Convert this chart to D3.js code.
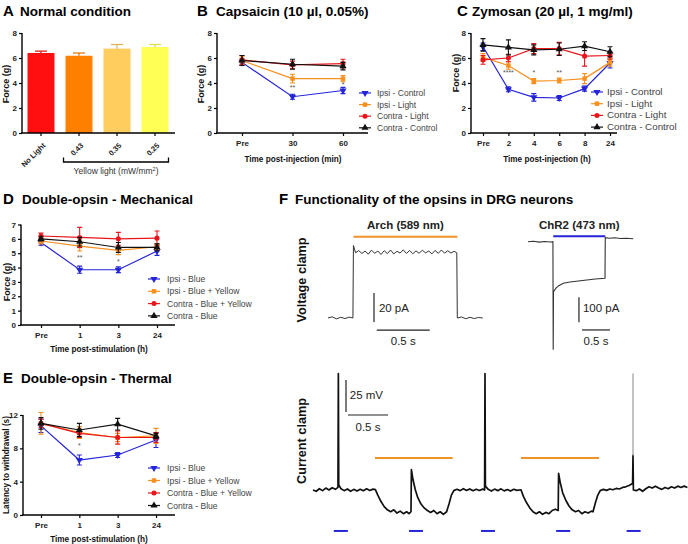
<!DOCTYPE html>
<html><head><meta charset="utf-8">
<script src="https://cdn.jsdelivr.net/npm/d3@7"></script>
<style>body{margin:0;background:#fff;} text{font-family:"Liberation Sans",Arial,sans-serif;}</style>
</head><body>
<svg id="c" width="688" height="544"></svg>
<script>
// ---------------- DATA ----------------
// Panel A
const barCategories = ["No Light", "0.43", "0.35", "0.25"];
const barValues = [6.4, 6.18, 6.75, 6.88];
const barErrors = [0.15, 0.22, 0.33, 0.2];
const barColors = ["#ff0f0f", "#ff8000", "#ffcc5e", "#ffff55"];

// Panel B (capsaicin)
const capsTimes = ["Pre", "30", "60"];
const capsIpsiControl = [5.65, 2.9, 3.4];
const capsIpsiControlErr = [0.25, 0.2, 0.25];
const capsIpsiLight = [5.8, 4.35, 4.35];
const capsIpsiLightErr = [0.3, 0.35, 0.25];
const capsContraLight = [5.85, 5.45, 5.55];
const capsContraLightErr = [0.35, 0.3, 0.35];
const capsContraControl = [5.8, 5.5, 5.35];
const capsContraControlErr = [0.4, 0.4, 0.3];
const capsStars = [["30", 3.7, "**"], ["60", 3.95, "*"]];

// Panel C (zymosan)
const zymTimes = ["Pre", "2", "4", "6", "8", "24"];
const zymIpsiControl = [6.9, 3.5, 2.85, 2.8, 3.55, 5.6];
const zymIpsiControlErr = [0.3, 0.2, 0.3, 0.2, 0.2, 0.4];
const zymIpsiLight = [6.05, 5.4, 4.15, 4.2, 4.35, 5.65];
const zymIpsiLightErr = [0.3, 0.3, 0.2, 0.2, 0.4, 0.3];
const zymContraLight = [5.85, 6.0, 6.75, 6.75, 6.15, 6.2];
const zymContraLightErr = [0.35, 0.3, 0.4, 0.5, 0.8, 0.3];
const zymContraControl = [7.05, 6.85, 6.65, 6.7, 6.95, 6.5];
const zymContraControlErr = [0.5, 0.6, 0.4, 0.5, 0.35, 0.4];
const zymStars = [["2", 4.9, "****"], ["4", 4.9, "*"], ["6", 4.9, "**"]];

// Panel D (double-opsin mechanical)
const stimTimes = ["Pre", "1", "3", "24"];
const mechIpsiBlue = [5.75, 3.85, 3.85, 5.15];
const mechIpsiBlueErr = [0.2, 0.25, 0.2, 0.3];
const mechIpsiBY = [5.85, 5.5, 5.2, 5.45];
const mechIpsiBYErr = [0.2, 0.35, 0.3, 0.2];
const mechContraBY = [6.2, 6.1, 6.0, 6.05];
const mechContraBYErr = [0.2, 0.7, 0.45, 0.5];
const mechContraBlue = [6.0, 5.8, 5.4, 5.4];
const mechContraBlueErr = [0.15, 0.3, 0.35, 0.25];
const mechStars = [["1", 4.75, "**"], ["3", 4.45, "*"]];

// Panel E (double-opsin thermal)
const thermIpsiBlue = [10.7, 6.6, 7.2, 9.0];
const thermIpsiBlueErr = [0.8, 0.6, 0.3, 0.9];
const thermIpsiBY = [11.0, 9.9, 9.3, 9.5];
const thermIpsiBYErr = [1.3, 0.7, 0.5, 0.9];
const thermContraBY = [11.0, 9.8, 9.3, 9.3];
const thermContraBYErr = [0.5, 0.5, 0.8, 0.6];
const thermContraBlue = [11.0, 10.2, 10.9, 9.5];
const thermContraBlueErr = [0.7, 0.8, 0.7, 0.3];
const thermStars = [["1", 8.4, "*"]];

// Panel F traces: [time s, value]
const archTrace = [[0,0],[0.04,0.8],[0.08,-0.6],[0.12,0.5],[0.16,-0.4],[0.2,0.6],[0.235,0],[0.24,50],[0.26,45],[0.29,46.5],[0.32,44.5],[0.35,46.2],[0.38,44],[0.41,46.8],[0.44,44.6],[0.47,46.2],[0.5,43.8],[0.53,46.4],[0.56,44.4],[0.59,46.9],[0.62,44.2],[0.65,46],[0.68,44.8],[0.71,47],[0.74,44.5],[0.77,46.6],[0.8,44.3],[0.83,46.3],[0.86,44.6],[0.89,46.8],[0.92,44.9],[0.95,46.2],[0.98,44.2],[1.01,46.6],[1.04,44.6],[1.07,46.9],[1.1,44.7],[1.13,46.4],[1.16,44.8],[1.19,46],[1.215,45],[1.22,0],[1.26,0.7],[1.3,-0.5],[1.34,0.5],[1.38,-0.4],[1.42,0.4],[1.46,0]];
const archLight = [0.24, 1.22];
const chr2Trace = [[0,0],[0.1,1.5],[0.2,-1.5],[0.3,1],[0.4,-1],[0.445,0],[0.45,-432],[0.455,-200],[0.5,-186],[0.55,-176],[0.63,-166],[0.75,-161],[0.9,-157],[1.05,-153],[1.2,-149],[1.375,-146],[1.38,16],[1.45,14],[1.55,16],[1.65,13],[1.75,14],[1.88,12]];
const chr2Light = [0.45, 1.38];
const ccTrace = [[0,0],[0.04,-1],[0.08,1],[0.12,-0.5],[0.16,1.5],[0.2,0],[0.24,1.8],[0.28,0.5],[0.312,2],[0.317,91],[0.322,4],
 [0.35,1],[0.39,-0.5],[0.43,0.8],[0.47,-1],[0.51,0.5],[0.55,-0.8],[0.59,0.6],[0.63,-0.6],[0.67,0.9],[0.71,-0.4],[0.75,0.7],[0.78,0.3],
 [0.81,-4],[0.85,-9],[0.89,-13],[0.93,-15.5],[0.97,-17],[1.01,-15.5],[1.05,-18],[1.09,-16.5],[1.13,-18.5],[1.17,-17],[1.2,-18.5],[1.225,-17],
 [1.23,16],[1.25,8],[1.28,0],[1.31,-6],[1.35,-11],[1.39,-14],[1.43,-16],[1.47,-17.5],[1.51,-16],[1.55,-18.5],[1.59,-17],[1.63,-19],[1.67,-17],
 [1.7,-11],[1.73,-4],[1.76,-0.5],[1.8,0.6],[1.84,-0.5],[1.88,1],[1.92,-0.3],[1.96,0.8],[2.0,-0.6],[2.04,0.6],[2.08,-0.4],[2.12,0.7],[2.145,0],
 [2.15,91],[2.155,3],[2.19,0.5],[2.23,-0.8],[2.27,0.7],[2.31,-0.5],[2.35,0.9],[2.39,-0.7],[2.43,0.4],[2.47,-0.8],[2.51,0.6],[2.55,-0.3],[2.6,0.2],
 [2.63,-5],[2.67,-10],[2.71,-14],[2.75,-17],[2.79,-18.5],[2.83,-17],[2.87,-19],[2.91,-17.5],[2.95,-18.5],[2.99,-16],[3.03,-15],[3.065,-16],
 [3.07,13],[3.09,6],[3.12,-2],[3.16,-8],[3.2,-12.5],[3.24,-15.5],[3.28,-17],[3.32,-16],[3.36,-18.5],[3.4,-17],[3.44,-18],[3.48,-16.5],[3.5,-17],
 [3.53,-10],[3.56,-4],[3.59,-0.5],[3.63,0.5],[3.67,-0.3],[3.71,0.8],[3.75,0.2],[3.79,1.2],[3.83,0.8],[3.87,2],[3.91,2.5],[3.95,3.5],[3.995,5],
 [4.0,27],[4.005,0],[4.04,-0.5],[4.08,0.8],[4.12,-1],[4.16,1],[4.2,2.5],[4.24,1.5],[4.28,3],[4.32,1.5],[4.36,0.5],[4.4,2],[4.44,1],[4.48,2.5],[4.52,1.5],[4.56,3],[4.6,2],[4.64,3],[4.68,2]];
const ccSpikeTop = [[4.0,27],[4.0,91]];
const ccYellow = [[0.775, 1.746], [2.6, 3.575]];
const ccBluePulses = [0.26, 1.2, 2.1, 3.04, 3.92];
const ccPulseDur = 0.175;

// ---------------- DRAW ----------------
const FONT = '"Liberation Sans", Arial, sans-serif';
const svg = d3.select("#c");
const BLUE = "#2424d8", ORANGE = "#f7901e", RED = "#e8161c", BLACK = "#111";

function title(letter, text, lx, tx, y) {
  svg.append("text").attr("x", lx).attr("y", y).attr("font-size", 15).attr("font-weight", "bold").text(letter);
  svg.append("text").attr("x", tx).attr("y", y).attr("font-size", 13.5).attr("font-weight", "bold").text(text);
}
function styleAxis(g) {
  g.selectAll("path.domain").remove();
  g.selectAll("line").attr("stroke", "#000").attr("stroke-width", 1.2);
  g.selectAll("text").attr("font-size", 8).attr("font-weight", "bold").attr("fill", "#222").attr("font-family", FONT);
}
function vLabel(text, x, y, size) {
  svg.append("text").attr("transform", `translate(${x},${y}) rotate(-90)`).attr("text-anchor", "middle")
    .attr("font-size", size).attr("font-weight", "bold").attr("fill", "#111").text(text);
}
const sym = {
  down: d3.symbol().type(d3.symbolTriangle).size(22),
  up: d3.symbol().type(d3.symbolTriangle).size(22),
  square: d3.symbol().type(d3.symbolSquare).size(20),
  circle: d3.symbol().type(d3.symbolCircle).size(20)
};
function marker(g, type, x, y, color) {
  g.append("path").attr("d", sym[type]()).attr("fill", color)
    .attr("transform", `translate(${x},${y})` + (type === "down" ? " rotate(180)" : ""));
}

// ---- Panel A ----
title("A", "Normal condition", 3, 20, 16);
{
  const x = d3.scaleBand().domain(barCategories).range([22, 174]).paddingInner(0.29).paddingOuter(0.145);
  const y = d3.scaleLinear().domain([0, 8]).range([133, 33]);
  const g = svg.append("g");
  g.selectAll("rect").data(barCategories).join("rect")
    .attr("x", d => x(d)).attr("width", x.bandwidth())
    .attr("y", (d, i) => y(barValues[i])).attr("height", (d, i) => y(0) - y(barValues[i]))
    .attr("fill", (d, i) => barColors[i]);
  barCategories.forEach((c, i) => {
    const cx = x(c) + x.bandwidth() / 2;
    const col = d3.color(barColors[i]).darker(0.4);
    g.append("line").attr("x1", cx).attr("x2", cx).attr("y1", y(barValues[i])).attr("y2", y(barValues[i] + barErrors[i])).attr("stroke", col).attr("stroke-width", 1.2);
    g.append("line").attr("x1", cx - 6).attr("x2", cx + 6).attr("y1", y(barValues[i] + barErrors[i])).attr("y2", y(barValues[i] + barErrors[i])).attr("stroke", col).attr("stroke-width", 1.2);
    g.append("text").attr("transform", `translate(${cx + 5},${y(0) + 13}) rotate(-45)`).attr("text-anchor", "end")
      .attr("font-size", 7.5).attr("font-weight", "bold").attr("fill", "#222").text(c);
  });
  const ya = g.append("g").attr("transform", "translate(22,0)").call(d3.axisLeft(y).tickValues([0, 2, 4, 6, 8]).tickSize(3).tickPadding(2));
  styleAxis(ya);
  const xa = g.append("g").attr("transform", `translate(0,${y(0)})`).call(d3.axisBottom(x).tickSize(3).tickFormat(""));
  styleAxis(xa);
  g.append("line").attr("x1", 22).attr("x2", 22).attr("y1", y(8)).attr("y2", y(0)).attr("stroke", "#000").attr("stroke-width", 1.4);
  g.append("line").attr("x1", 21.3).attr("x2", 175).attr("y1", y(0)).attr("y2", y(0)).attr("stroke", "#000").attr("stroke-width", 1.4);
  // bracket
  const bx0 = x("0.43") - 2, bx1 = x("0.25") + x.bandwidth();
  g.append("path").attr("d", `M${bx0},157.5V162H${bx1}V157.5`).attr("fill", "none").attr("stroke", "#000").attr("stroke-width", 1.3);
  const yl = g.append("text").attr("x", (bx0 + bx1) / 2).attr("y", 174).attr("text-anchor", "middle").attr("font-size", 8.5).attr("fill", "#333");
  yl.append("tspan").text("Yellow light (mW/mm");
  yl.append("tspan").attr("font-size", 5.5).attr("dy", -3.5).text("2");
  yl.append("tspan").attr("dy", 3.5).text(")");
  vLabel("Force (g)", 9, 84, 9);
}

// ---- generic line chart ----
function lineChart(o) {
  const g = svg.append("g");
  const x = d3.scalePoint().domain(o.cats).range([o.px0, o.px1]);
  const y = d3.scaleLinear().domain([0, o.yMax]).range([o.yBottom, o.yTop]);
  const ya = g.append("g").attr("transform", `translate(${o.axX},0)`).call(d3.axisLeft(y).tickValues(o.yTicks).tickFormat(d3.format("d")).tickSize(3).tickPadding(2));
  styleAxis(ya);
  const xa = g.append("g").attr("transform", `translate(0,${y(0)})`).call(d3.axisBottom(x).tickSize(3).tickPadding(4));
  styleAxis(xa);
  g.append("line").attr("x1", o.axX).attr("x2", o.axX).attr("y1", y(o.yMax)).attr("y2", y(0)).attr("stroke", "#000").attr("stroke-width", 1.4);
  g.append("line").attr("x1", o.axX - 0.7).attr("x2", o.axEnd).attr("y1", y(0)).attr("y2", y(0)).attr("stroke", "#000").attr("stroke-width", 1.4);
  o.series.forEach(s => {
    const pts = o.cats.map((c, i) => ({ c, v: s.values[i], e: s.errs[i] }));
    g.append("path").datum(pts).attr("d", d3.line().x(d => x(d.c)).y(d => y(d.v)))
      .attr("fill", "none").attr("stroke", s.color).attr("stroke-width", 1.2);
    pts.forEach(d => {
      const cx = x(d.c);
      g.append("path").attr("d", `M${cx},${y(d.v - d.e)}V${y(d.v + d.e)}M${cx - 2.5},${y(d.v - d.e)}h5M${cx - 2.5},${y(d.v + d.e)}h5`)
        .attr("stroke", s.color).attr("stroke-width", 1.1).attr("fill", "none");
      marker(g, s.marker, cx, y(d.v), s.color);
    });
  });
  o.stars.forEach(([c, v, t]) => {
    g.append("text").attr("x", x(c)).attr("y", y(v) + 3).attr("text-anchor", "middle").attr("font-size", 7).attr("fill", "#555").text(t);
  });
  o.series.forEach((s, i) => {
    const ly = o.legY + i * o.legDy;
    g.append("line").attr("x1", o.legX - 6).attr("x2", o.legX + 6).attr("y1", ly).attr("y2", ly).attr("stroke", s.color).attr("stroke-width", 1.2);
    marker(g, s.marker, o.legX, ly, s.color);
    g.append("text").attr("x", o.legX + o.legGap).attr("y", ly + 3).attr("font-size", o.legFont).attr("fill", "#444").text(s.name);
  });
  vLabel(o.yLabel, o.yLabelX, o.yLabelY, o.yLabelSize || 9);
  g.append("text").attr("x", o.xTitleX).attr("y", o.xTitleY).attr("text-anchor", "middle").attr("font-size", 8.2).attr("font-weight", "bold").attr("fill", "#111").text(o.xTitle);
}

// ---- Panel B ----
title("B", "Capsaicin (10 \u00b5l, 0.05%)", 197, 216, 16);
lineChart({
  cats: capsTimes, px0: 242, px1: 343, axX: 217, axEnd: 368, yTop: 33, yBottom: 133, yMax: 8, yTicks: [0, 2, 4, 6, 8],
  series: [
    { name: "Ipsi - Control", values: capsIpsiControl, errs: capsIpsiControlErr, color: BLUE, marker: "down" },
    { name: "Ipsi - Light", values: capsIpsiLight, errs: capsIpsiLightErr, color: ORANGE, marker: "square" },
    { name: "Contra - Light", values: capsContraLight, errs: capsContraLightErr, color: RED, marker: "circle" },
    { name: "Contra - Control", values: capsContraControl, errs: capsContraControlErr, color: BLACK, marker: "up" }
  ],
  stars: capsStars, legX: 365, legY: 93, legDy: 11.6, legGap: 12, legFont: 8.5,
  yLabel: "Force (g)", yLabelX: 204, yLabelY: 84, xTitle: "Time post-injection (min)", xTitleX: 293, xTitleY: 162
});

// ---- Panel C ----
title("C", "Zymosan (20 \u00b5l, 1 mg/ml)", 457, 472, 16);
lineChart({
  cats: zymTimes, px0: 483, px1: 610, axX: 471, axEnd: 617, yTop: 33, yBottom: 133, yMax: 8, yTicks: [0, 2, 4, 6, 8],
  series: [
    { name: "Ipsi - Control", values: zymIpsiControl, errs: zymIpsiControlErr, color: BLUE, marker: "down" },
    { name: "Ipsi - Light", values: zymIpsiLight, errs: zymIpsiLightErr, color: ORANGE, marker: "square" },
    { name: "Contra - Light", values: zymContraLight, errs: zymContraLightErr, color: RED, marker: "circle" },
    { name: "Contra - Control", values: zymContraControl, errs: zymContraControlErr, color: BLACK, marker: "up" }
  ],
  stars: zymStars, legX: 597, legY: 92, legDy: 11.7, legGap: 10, legFont: 9.8,
  yLabel: "Force (g)", yLabelX: 459, yLabelY: 73, xTitle: "Time post-injection (h)", xTitleX: 547, xTitleY: 162
});

// ---- Panel D ----
title("D", "Double-opsin - Mechanical", 3, 22, 204);
lineChart({
  cats: stimTimes, px0: 41, px1: 157, axX: 21, axEnd: 175, yTop: 224.5, yBottom: 325, yMax: 7, yTicks: [0, 1, 2, 3, 4, 5, 6, 7],
  series: [
    { name: "Ipsi - Blue", values: mechIpsiBlue, errs: mechIpsiBlueErr, color: BLUE, marker: "down" },
    { name: "Ipsi - Blue + Yellow", values: mechIpsiBY, errs: mechIpsiBYErr, color: ORANGE, marker: "square" },
    { name: "Contra - Blue + Yellow", values: mechContraBY, errs: mechContraBYErr, color: RED, marker: "circle" },
    { name: "Contra - Blue", values: mechContraBlue, errs: mechContraBlueErr, color: BLACK, marker: "up" }
  ],
  stars: mechStars, legX: 154, legY: 279, legDy: 12.3, legGap: 13, legFont: 8.6,
  yLabel: "Force (g)", yLabelX: 10, yLabelY: 282, xTitle: "Time post-stimulation (h)", xTitleX: 99, xTitleY: 352
});

// ---- Panel E ----
title("E", "Double-opsin - Thermal", 3, 21, 383);
lineChart({
  cats: stimTimes, px0: 41, px1: 156, axX: 23, axEnd: 175, yTop: 415, yBottom: 515, yMax: 12, yTicks: [0, 4, 8, 12],
  series: [
    { name: "Ipsi - Blue", values: thermIpsiBlue, errs: thermIpsiBlueErr, color: BLUE, marker: "down" },
    { name: "Ipsi - Blue + Yellow", values: thermIpsiBY, errs: thermIpsiBYErr, color: ORANGE, marker: "square" },
    { name: "Contra - Blue + Yellow", values: thermContraBY, errs: thermContraBYErr, color: RED, marker: "circle" },
    { name: "Contra - Blue", values: thermContraBlue, errs: thermContraBlueErr, color: BLACK, marker: "up" }
  ],
  stars: thermStars, legX: 154, legY: 468, legDy: 12.5, legGap: 13, legFont: 8.6,
  yLabel: "Latency to withdrawal (s)", yLabelX: 9, yLabelY: 465, yLabelSize: 8.2, xTitle: "Time post-stimulation (h)", xTitleX: 99, xTitleY: 542
});

// ---- Panel F ----
title("F", "Functionality of the opsins in DRG neurons", 279, 295, 204);
vLabel("Voltage clamp", 306, 280, 12.7);
vLabel("Current clamp", 306, 441, 12.7);
function scaleBar(g, xv, yv0, yv1, xh0, xh1, yh, vText, hText, vtx, vty, htx, hty) {
  g.append("line").attr("x1", xv).attr("x2", xv).attr("y1", yv0).attr("y2", yv1).attr("stroke", "#222").attr("stroke-width", 1.2);
  g.append("line").attr("x1", xh0).attr("x2", xh1).attr("y1", yh).attr("y2", yh).attr("stroke", "#222").attr("stroke-width", 1.2);
  g.append("text").attr("x", vtx).attr("y", vty).attr("font-size", 11.5).attr("fill", "#222").text(vText);
  g.append("text").attr("x", htx).attr("y", hty).attr("text-anchor", "middle").attr("font-size", 11.5).attr("fill", "#222").text(hText);
}
{
  const g = svg.append("g");
  // Arch
  const ax = d3.scaleLinear().domain([0, 1]).range([328, 434]);
  const ay = d3.scaleLinear().domain([0, 20]).range([318, 289]);
  g.append("path").datum(archTrace).attr("d", d3.line().x(d => ax(d[0])).y(d => ay(d[1])))
    .attr("fill", "none").attr("stroke", "#333").attr("stroke-width", 1);
  g.append("line").attr("x1", ax(archLight[0])).attr("x2", ax(archLight[1])).attr("y1", ay(56)).attr("y2", ay(56)).attr("stroke", "#f0912a").attr("stroke-width", 2);
  g.append("text").attr("x", ax((archLight[0] + archLight[1]) / 2)).attr("y", 229).attr("text-anchor", "middle").attr("font-size", 11.5).attr("font-weight", "bold").attr("fill", "#222").text("Arch (589 nm)");
  scaleBar(g, ax(0.434), ay(17.3), ay(-2.7), ax(0.46), ax(0.96), ay(-8.3), "20 pA", "0.5 s", ax(0.48), 312, ax(0.71), 345);
  // ChR2
  const cx = d3.scaleLinear().domain([0, 1]).range([528, 584]);
  const cy = d3.scaleLinear().domain([0, 100]).range([241.7, 216.7]);
  g.append("path").datum(chr2Trace).attr("d", d3.line().x(d => cx(d[0])).y(d => cy(d[1])))
    .attr("fill", "none").attr("stroke", "#333").attr("stroke-width", 1.1);
  g.append("line").attr("x1", cx(chr2Light[0])).attr("x2", cx(chr2Light[1])).attr("y1", cy(22)).attr("y2", cy(22)).attr("stroke", "#2424d8").attr("stroke-width", 2);
  g.append("text").attr("x", cx((chr2Light[0] + chr2Light[1]) / 2)).attr("y", 229).attr("text-anchor", "middle").attr("font-size", 11.5).attr("font-weight", "bold").attr("fill", "#222").text("ChR2 (473 nm)");
  scaleBar(g, cx(0.91), cy(-222), cy(-322), cx(0.964), cx(1.464), cy(-353), "100 pA", "0.5 s", cx(0.98), 312, cx(1.214), 345);
  // Current clamp
  const kx = d3.scaleLinear().domain([0, 1]).range([313, 393]);
  const ky = d3.scaleLinear().domain([0, 25]).range([490, 458]);
  g.append("path").datum(ccTrace).attr("d", d3.line().x(d => kx(d[0])).y(d => ky(d[1])))
    .attr("fill", "none").attr("stroke", "#111").attr("stroke-width", 1.7).attr("stroke-linejoin", "round");
  g.append("path").datum(ccSpikeTop).attr("d", d3.line().x(d => kx(d[0])).y(d => ky(d[1])))
    .attr("fill", "none").attr("stroke", "#9a9a9a").attr("stroke-width", 1.2);
  ccYellow.forEach(([a, b]) => {
    g.append("line").attr("x1", kx(a)).attr("x2", kx(b)).attr("y1", ky(25)).attr("y2", ky(25)).attr("stroke", "#f0912a").attr("stroke-width", 2);
  });
  ccBluePulses.forEach(t => {
    g.append("line").attr("x1", kx(t)).attr("x2", kx(t + ccPulseDur)).attr("y1", ky(-32)).attr("y2", ky(-32)).attr("stroke", "#2424d8").attr("stroke-width", 2);
  });
  scaleBar(g, kx(0.4125), ky(86), ky(61), kx(0.4375), kx(0.9375), ky(58.6), "25 mV", "0.5 s", kx(0.46), 399, kx(0.6875), 431);
}
</script>
</body></html>
